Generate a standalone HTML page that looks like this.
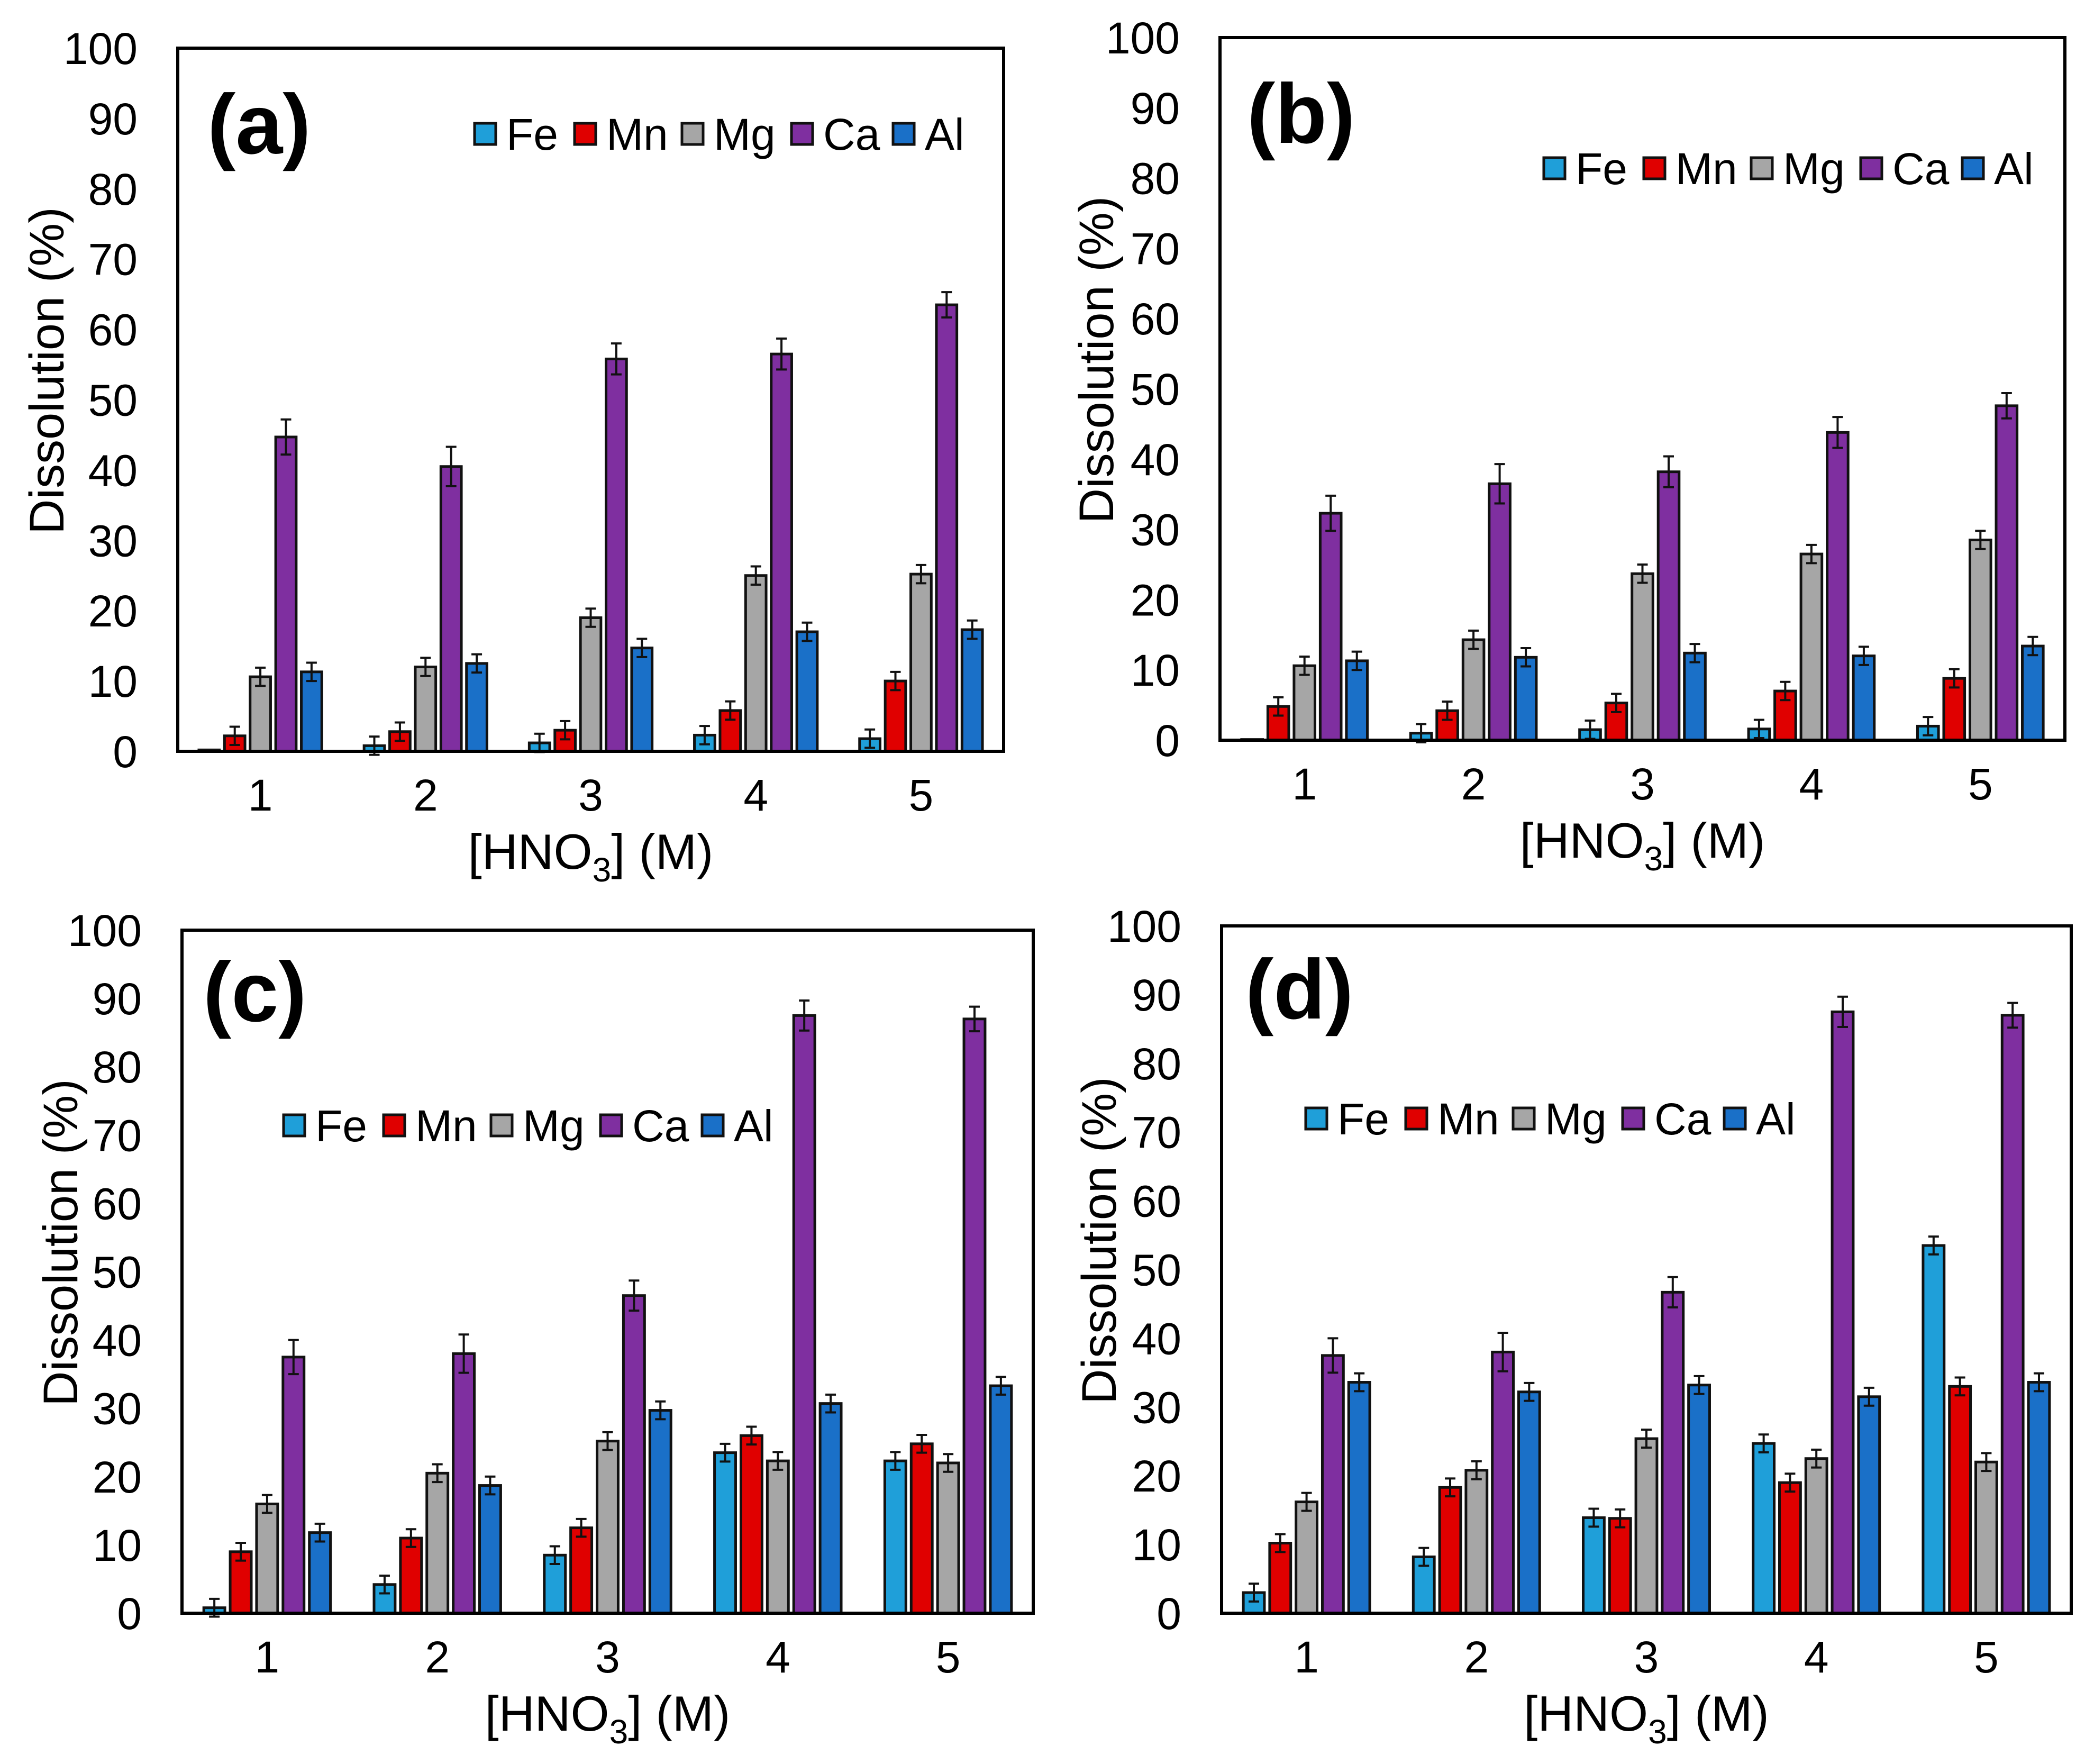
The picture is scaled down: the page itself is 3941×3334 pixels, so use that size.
<!DOCTYPE html>
<html><head><meta charset="utf-8"><style>
html,body{margin:0;padding:0;background:#fff;}
svg{display:block;font-family:"Liberation Sans",Arial,sans-serif;}
</style></head><body>
<svg id="fig" width="3941" height="3334" viewBox="0 0 3941 3334" xmlns="http://www.w3.org/2000/svg"></svg>
<script>
const categories = ["1","2","3","4","5"];
const yTicks = [0,10,20,30,40,50,60,70,80,90,100];
const seriesNames = ["Fe","Mn","Mg","Ca","Al"];
const feA = [0.2,0.8,1.2,2.3,1.8];
const mnA = [2.2,2.8,3.0,5.8,10.0];
const mgA = [10.6,12.0,19.0,25.0,25.2];
const caA = [44.7,40.5,55.8,56.5,63.5];
const alA = [11.3,12.5,14.7,17.0,17.3];
const feB = [0.1,1.0,1.5,1.6,2.0];
const mnB = [4.8,4.2,5.3,7.0,8.8];
const mgB = [10.6,14.3,23.7,26.5,28.5];
const caB = [32.3,36.5,38.2,43.8,47.6];
const alB = [11.3,11.8,12.4,12.0,13.4];
const feC = [0.8,4.2,8.5,23.5,22.3];
const mnC = [9.0,11.0,12.5,26.0,24.8];
const mgC = [16.0,20.5,25.2,22.3,22.0];
const caC = [37.5,38.0,46.5,87.5,87.0];
const alC = [11.8,18.7,29.7,30.7,33.3];
const feD = [3.0,8.2,13.9,24.7,53.5];
const mnD = [10.2,18.3,13.8,19.0,33.0];
const mgD = [16.2,20.8,25.4,22.5,22.0];
const caD = [37.5,38.0,46.7,87.5,87.0];
const alD = [33.6,32.2,33.2,31.5,33.6];
const errSmall = [1.3,1.3,1.3,1.3,1.3];
const errCa = [2.5,2.8,2.2,2.2,1.8];

const colors = ["#1f9fd9","#e00000","#a6a6a6","#7f2fa0","#1a70c8"];
const NS = "http://www.w3.org/2000/svg";
const svg = document.getElementById("fig");
function mk(tag, attrs, parent){
  const e = document.createElementNS(NS, tag);
  for (const k in attrs) e.setAttribute(k, attrs[k]);
  (parent||svg).appendChild(e);
  return e;
}
const panels = [
  {id:"a", L:336, R:1897, T:91, B:1420, data:[feA,mnA,mgA,caA,alA], lab:[392,235], leg:[917,253], title:88},
  {id:"b", L:2306, R:3903, T:71, B:1399, data:[feB,mnB,mgB,caB,alB], lab:[2357,215], leg:[2938,318], title:2072},
  {id:"c", L:344, R:1953, T:1758, B:3049, data:[feC,mnC,mgC,caC,alC], lab:[384,1875], leg:[556,2127], title:114},
  {id:"d", L:2309, R:3915, T:1750, B:3049, data:[feD,mnD,mgD,caD,alD], lab:[2354,1870], leg:[2488,2114], title:2077}
];
const legOff = [0,189,392,599,791];
panels.forEach(p=>{
  const g = mk("g",{});
  
  
  const y = v => p.B - (v/100)*(p.B-p.T);
  const catW = (p.R-p.L)/categories.length;
  const slot = catW*0.155, bw = slot*0.8;
  const x = (ci, si) => p.L + catW*ci + catW/2 + (si-2)*slot;
  yTicks.forEach(t=>{
    const tx = mk("text",{x:p.L-76, y:y(t)+30, "text-anchor":"end", "font-size":84, fill:"#000"}, g);
    tx.textContent = t;
    
    
  });
  p.data.forEach((arr, si)=>{
    arr.forEach((v, ci)=>{
      const cx = x(ci, si);
      const r = mk("rect",{x:cx-bw/2, y:y(v), width:bw, height:Math.max(0,p.B-y(v)), fill:colors[si], stroke:"#111", "stroke-width":5}, g);
      
      
      if (v > 0.5) {
        const e = (si===3 ? errCa[ci] : errSmall[ci]);
        const eb = mk("path",{d:`M${cx},${y(v+e)}V${y(v-e)}M${cx-10},${y(v+e)}H${cx+10}M${cx-10},${y(v-e)}H${cx+10}`, stroke:"#111", "stroke-width":4, fill:"none"}, g);
        
        
      }
    });
  });
  const fr = mk("rect",{x:p.L, y:p.T, width:p.R-p.L, height:p.B-p.T, fill:"none", stroke:"#000", "stroke-width":6}, g);
  
  
  categories.forEach((c, ci)=>{
    const tx = mk("text",{x:p.L+catW*ci+catW/2, y:p.B+112, "text-anchor":"middle", "font-size":84, fill:"#000"}, g);
    tx.textContent = c;
    
    
  });
  const xt = mk("text",{x:(p.L+p.R)/2, y:p.B+222, "text-anchor":"middle", "font-size":94, fill:"#000"}, g);
  xt.setAttribute('xml:space','preserve');
  xt.innerHTML = '[HNO<tspan font-size="64" dy="24">3</tspan><tspan dy="-24">]  (M)</tspan>';
  
  
  const ym = (p.T+p.B)/2 - 55;
  const yt = mk("text",{x:0, y:0, transform:`translate(${p.title+32},${ym}) rotate(-90)`, "text-anchor":"middle", "font-size":92, fill:"#000"}, g);
  yt.setAttribute('xml:space','preserve');
  yt.textContent = "Dissolution  (%)";
  
  
  const pl = mk("text",{x:p.lab[0], y:p.lab[1]+55, "font-size":160, "font-weight":"bold", fill:"#000"}, g);
  pl.textContent = "("+p.id+")";
  
  
  seriesNames.forEach((n, si)=>{
    const lx = p.leg[0] + legOff[si];
    const sq = mk("rect",{x:lx-20, y:p.leg[1]-20, width:40, height:40, fill:colors[si], stroke:"#111", "stroke-width":5}, g);
    
    
    const lt = mk("text",{x:lx+40, y:p.leg[1]+30, "font-size":84, fill:"#000"}, g);
    lt.textContent = n;
    
    
  });
});
</script>
</body></html>
